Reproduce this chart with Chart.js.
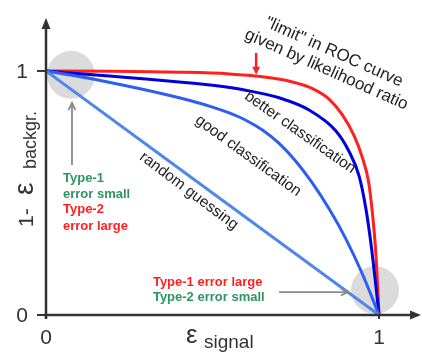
<!DOCTYPE html>
<html>
<head>
<meta charset="utf-8">
<script src="https://cdn.jsdelivr.net/npm/chart.js@4.4.1/dist/chart.umd.min.js"></script>
<style>
    html, body { margin: 0; padding: 0; background: #fff; }
    canvas { display: block; }
</style>
</head>
<body>
<canvas id="roc" width="422" height="357"></canvas>
<script>
// --- data ---
const tickValues = [0, 1];
const tickLabels = ['0', '1'];

const limitX = [0, 0.2, 0.4, 0.55, 0.65, 0.74, 0.8, 0.85, 0.89, 0.925, 0.95, 0.968, 0.98, 0.99, 1];
const limitY = [1, 0.999, 0.995, 0.988, 0.976, 0.955, 0.928, 0.885, 0.82, 0.735, 0.645, 0.55, 0.42, 0.26, 0];

const betterX = [0, 0.1, 0.2, 0.3, 0.4, 0.5, 0.6, 0.7, 0.79, 0.87, 0.91, 0.94, 0.96, 0.975, 0.988, 1];
const betterY = [1, 0.989, 0.978, 0.967, 0.955, 0.941, 0.921, 0.89, 0.84, 0.755, 0.67, 0.57, 0.44, 0.3, 0.15, 0];

const goodX = [0, 0.1, 0.2, 0.3, 0.4, 0.5, 0.55, 0.6, 0.65, 0.7, 0.75, 0.8, 0.85, 0.9, 0.95, 1];
const goodY = [1, 0.977, 0.951, 0.922, 0.89, 0.852, 0.828, 0.798, 0.758, 0.703, 0.63, 0.54, 0.435, 0.313, 0.168, 0];

const randomX = [0, 1];
const randomY = [1, 0];

const FONT = '"Liberation Sans", Arial, Helvetica, sans-serif';
const GREEN = '#2f9462';
const RED = '#ff1f1f';

function pts(xs, ys) {
    return xs.map((x, i) => ({ x: x, y: ys[i] }));
}

function curve(label, xs, ys, color) {
    return {
        label: label,
        data: pts(xs, ys),
        borderColor: color,
        borderWidth: 3,
        pointRadius: 0,
        fill: false,
        cubicInterpolationMode: 'monotone'
    };
}

function rotText(ctx, text, x, y, deg, font, color, align) {
    ctx.save();
    ctx.translate(x, y);
    ctx.rotate(deg * Math.PI / 180);
    ctx.font = font;
    ctx.fillStyle = color;
    ctx.textAlign = align || 'center';
    ctx.textBaseline = 'middle';
    ctx.fillText(text, 0, 0);
    ctx.restore();
}

function arrowLine(ctx, x1, y1, x2, y2, color, width, head, filled) {
    const a = Math.atan2(y2 - y1, x2 - x1);
    ctx.save();
    ctx.strokeStyle = color;
    ctx.fillStyle = color;
    ctx.lineWidth = width;
    ctx.beginPath();
    ctx.moveTo(x1, y1);
    ctx.lineTo(filled ? x2 - Math.cos(a) * head * 0.8 : x2, filled ? y2 - Math.sin(a) * head * 0.8 : y2);
    ctx.stroke();
    ctx.beginPath();
    ctx.moveTo(x2 - head * Math.cos(a - 0.45), y2 - head * Math.sin(a - 0.45));
    ctx.lineTo(x2, y2);
    ctx.lineTo(x2 - head * Math.cos(a + 0.45), y2 - head * Math.sin(a + 0.45));
    if (filled) {
        ctx.closePath();
        ctx.fill();
    } else {
        ctx.stroke();
    }
    ctx.restore();
}

// circles behind the curves
const circlesPlugin = {
    id: 'circles',
    beforeDatasetsDraw(chart) {
        const { ctx, scales: { x, y } } = chart;
        ctx.save();
        ctx.fillStyle = 'rgba(175, 175, 175, 0.45)';
        [[0.075, 0.984], [0.988, 0.102]].forEach(c => {
            ctx.beginPath();
            ctx.arc(x.getPixelForValue(c[0]), y.getPixelForValue(c[1]), 24, 0, Math.PI * 2);
            ctx.fill();
        });
        ctx.restore();
    }
};

// axes, ticks, labels and annotations
const overlayPlugin = {
    id: 'overlay',
    afterDatasetsDraw(chart) {
        const { ctx, chartArea: area, scales: { x, y } } = chart;
        const P = (vx, vy) => [x.getPixelForValue(vx), y.getPixelForValue(vy)];
        const x0 = x.getPixelForValue(0);
        const y0 = y.getPixelForValue(0);

        // axes with arrow heads
        ctx.save();
        ctx.strokeStyle = '#333';
        ctx.fillStyle = '#333';
        ctx.lineWidth = 2.5;
        ctx.beginPath();
        ctx.moveTo(x0, y0 + 4);
        ctx.lineTo(x0, area.top + 8);
        ctx.moveTo(x0 - 2, y0);
        ctx.lineTo(area.right - 8, y0);
        ctx.stroke();
        ctx.beginPath();
        ctx.moveTo(x0, area.top);
        ctx.lineTo(x0 - 4.5, area.top + 11);
        ctx.lineTo(x0 + 4.5, area.top + 11);
        ctx.closePath();
        ctx.fill();
        ctx.beginPath();
        ctx.moveTo(area.right, y0);
        ctx.lineTo(area.right - 11, y0 - 4.5);
        ctx.lineTo(area.right - 11, y0 + 4.5);
        ctx.closePath();
        ctx.fill();

        // ticks
        ctx.lineWidth = 2;
        tickValues.forEach(v => {
            const py = y.getPixelForValue(v);
            ctx.beginPath();
            ctx.moveTo(x0 - 9, py);
            ctx.lineTo(x0, py);
            ctx.stroke();
            const px = x.getPixelForValue(v);
            ctx.beginPath();
            ctx.moveTo(px, y0);
            ctx.lineTo(px, y0 + 4);
            ctx.stroke();
        });

        ctx.font = '21px ' + FONT;
        ctx.textBaseline = 'middle';
        tickValues.forEach((v, i) => {
            ctx.textAlign = 'right';
            ctx.fillText(tickLabels[i], x0 - 18, y.getPixelForValue(v) + 1);
            ctx.textAlign = 'center';
            ctx.fillText(tickLabels[i], x.getPixelForValue(v), y0 + 23);
        });

        // y axis title: 1- ε_backgr.
        ctx.save();
        ctx.translate(33, 227);
        ctx.rotate(-Math.PI / 2);
        ctx.textAlign = 'left';
        ctx.textBaseline = 'alphabetic';
        ctx.fillStyle = '#333';
        ctx.font = '21px ' + FONT;
        ctx.fillText('1-', 0, 0);
        ctx.font = '28px ' + FONT;
        ctx.fillText('\u03b5', 32, 0);
        ctx.font = '18px ' + FONT;
        ctx.fillText('backgr.', 58, 3);
        ctx.restore();

        // x axis title: ε_signal
        ctx.textAlign = 'left';
        ctx.textBaseline = 'alphabetic';
        ctx.font = '26px ' + FONT;
        ctx.fillText('\u03b5', 186, 343);
        ctx.font = '19px ' + FONT;
        ctx.fillText('signal', 204, 348);
        ctx.restore();

        // curve labels
        const f16 = '15.5px ' + FONT;
        let p = P(0.763, 0.748);
        rotText(ctx, 'better classification', p[0], p[1], 35, f16, '#222');
        p = P(0.607, 0.652);
        rotText(ctx, 'good classification', p[0], p[1], 36, f16, '#222');
        p = P(0.429, 0.508);
        rotText(ctx, 'random guessing', p[0], p[1], 37, f16, '#222');

        const f17 = '17px ' + FONT;
        p = P(0.865, 1.077);
        rotText(ctx, '"limit" in ROC curve', p[0], p[1], 24, f17, '#222');
        p = P(0.842, 1.005);
        rotText(ctx, 'given by likelihood ratio', p[0], p[1], 24, f17, '#222');

        // arrows
        let a = P(0.631, 1.074), b = P(0.631, 0.984);
        arrowLine(ctx, a[0], a[1], b[0], b[1], RED, 2.5, 9, true);
        a = P(0.078, 0.615); b = P(0.078, 0.869);
        arrowLine(ctx, a[0], a[1], b[0], b[1], '#8a8a8a', 1.8, 8, false);
        a = P(0.70, 0.094); b = P(0.907, 0.094);
        arrowLine(ctx, a[0], a[1], b[0], b[1], '#8a8a8a', 1.8, 8, false);

        // error type notes
        const fb = 'bold 13px ' + FONT;
        const notes = [
            ['Type-1', 0.051, 0.561, GREEN],
            ['error small', 0.051, 0.496, GREEN],
            ['Type-2', 0.051, 0.434, RED],
            ['error large', 0.051, 0.365, RED],
            ['Type-1 error large', 0.321, 0.135, RED],
            ['Type-2 error small', 0.321, 0.070, GREEN]
        ];
        notes.forEach(n => {
            const q = P(n[1], n[2]);
            rotText(ctx, n[0], q[0], q[1], 0, fb, n[3], 'left');
        });
    }
};

new Chart(document.getElementById('roc'), {
    type: 'line',
    data: {
        datasets: [
            curve('random guessing', randomX, randomY, '#4f88ea'),
            curve('good classification', goodX, goodY, '#2d5ef2'),
            curve('better classification', betterX, betterY, '#0000dc'),
            curve('limit', limitX, limitY, '#ff2020')
        ]
    },
    options: {
        responsive: false,
        devicePixelRatio: 1,
        animation: false,
        layout: { padding: { left: 46, top: 18, right: 1, bottom: 42 } },
        plugins: {
            legend: { display: false },
            tooltip: { enabled: false }
        },
        scales: {
            x: { type: 'linear', min: 0, max: 1.126, display: false },
            y: { type: 'linear', min: 0, max: 1.217, display: false }
        }
    },
    plugins: [circlesPlugin, overlayPlugin]
});
</script>
</body>
</html>
